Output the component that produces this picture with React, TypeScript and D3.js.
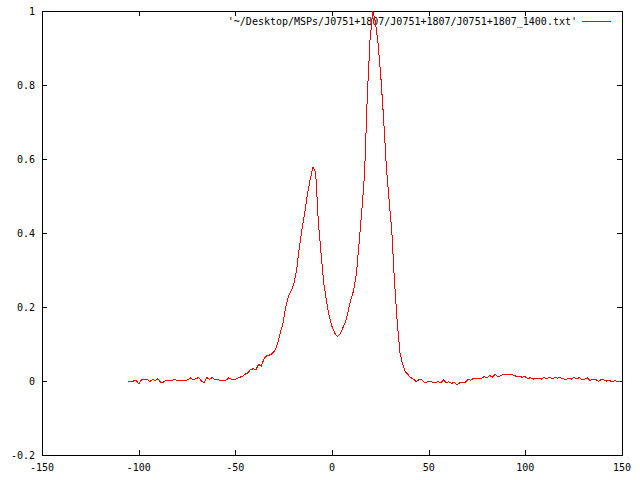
import React from "react";
import * as d3 from "d3";

const X_START = -105.5;
const X_STEP = 1.40625;
const profile: number[] = [
  -0.003, 0.0, 0.0, 0.002, -0.008, 0.004, 0.003, 0.005, -0.002, 0.004,
  0.001, 0.006, -0.004, -0.003, 0.003, 0.0, 0.001, 0.004, 0.002, 0.002,
  0.001, 0.001, 0.003, 0.008, 0.004, 0.006, 0.01, 0.0, -0.004, 0.009,
  0.004, 0.01, 0.003, 0.004, 0.001, 0.001, 0.002, 0.008, 0.005, 0.004,
  0.006, 0.01, 0.012, 0.018, 0.022, 0.03, 0.033, 0.03, 0.045, 0.04,
  0.06, 0.068, 0.07, 0.074, 0.082, 0.1, 0.13, 0.156, 0.2, 0.23,
  0.243, 0.262, 0.3, 0.36, 0.41, 0.455, 0.505, 0.545, 0.578, 0.565,
  0.43, 0.345, 0.265, 0.215, 0.175, 0.148, 0.13, 0.12, 0.128, 0.143,
  0.16, 0.19, 0.222, 0.245, 0.29, 0.375, 0.462, 0.56, 0.77, 0.92,
  1.0, 0.97, 0.91, 0.82, 0.71, 0.58, 0.49, 0.408, 0.27, 0.16,
  0.078, 0.045, 0.025, 0.017, 0.009, 0.005, -0.002, 0.004, 0.003, -0.004,
  -0.003, 0.0, -0.004, -0.004, -0.002, -0.005, 0.003, -0.004, -0.002, -0.007,
  -0.003, -0.01, -0.005, -0.005, -0.004, 0.004, 0.002, 0.007, 0.006, 0.006,
  0.007, 0.012, 0.009, 0.015, 0.01, 0.018, 0.012, 0.014, 0.018, 0.019,
  0.017, 0.018, 0.015, 0.012, 0.013, 0.01, 0.012, 0.006, 0.009, 0.005,
  0.008, 0.008, 0.005, 0.009, 0.006, 0.01, 0.006, 0.009, 0.008, 0.009,
  0.006, 0.004, 0.008, 0.005, 0.01, 0.006, 0.009, 0.003, 0.005, 0.008,
  0.001, 0.005, 0.004, -0.001, 0.004, 0.003, 0.0, 0.002, -0.003, 0.001,
  -0.002, 0.0,
];
const xTicks = [-150, -100, -50, 0, 50, 100, 150];
const yTicks = [-0.2, 0, 0.2, 0.4, 0.6, 0.8, 1];
const legendLabel = "'~/Desktop/MSPs/J0751+1807/J0751+1807/J0751+1807_1400.txt'";

const W = 640;
const H = 480;
const L = 42;
const R = 622;
const T = 11;
const B = 455;
const TICK = 5;
const FONT = "'DejaVu Sans Mono', monospace";

export default function App() {
  const x = d3.scaleLinear().domain([-150, 150]).range([L, R]);
  const y = d3.scaleLinear().domain([-0.2, 1]).range([B, T]);
  const pts: [number, number][] = profile.map((v, i) => [X_START + i * X_STEP, v]);
  const line = d3
    .line<[number, number]>()
    .x((d) => x(d[0]))
    .y((d) => y(d[1]));

  const fmtY = (v: number) => (Math.abs(v) < 1e-9 ? "0" : String(+v.toFixed(1)));

  return (
    <svg
      width={W}
      height={H}
      style={{ position: "absolute", left: 0, top: 0, background: "#fff" }}
      fontFamily={FONT}
      fontSize={10}
    >
      <rect x={0} y={0} width={W} height={H} fill="#fff" />
      <defs>
        <clipPath id="plotclip">
          <rect x={L} y={T - 1} width={R - L} height={B - T + 1} />
        </clipPath>
      </defs>
      <g shapeRendering="crispEdges" stroke="#000" strokeWidth={1}>
        {xTicks.map((t) => (
          <g key={"xt" + t}>
            <line x1={Math.round(x(t)) + 0.5} x2={Math.round(x(t)) + 0.5} y1={B} y2={B - TICK} />
            <line x1={Math.round(x(t)) + 0.5} x2={Math.round(x(t)) + 0.5} y1={T} y2={T + TICK} />
          </g>
        ))}
        {yTicks.map((t) => (
          <g key={"yt" + t}>
            <line x1={L} x2={L + TICK} y1={Math.round(y(t)) + 0.5} y2={Math.round(y(t)) + 0.5} />
            <line x1={R} x2={R - TICK} y1={Math.round(y(t)) + 0.5} y2={Math.round(y(t)) + 0.5} />
          </g>
        ))}
        <rect x={L + 0.5} y={T + 0.5} width={R - L} height={B - T} fill="none" />
      </g>
      {xTicks.map((t) => (
        <text key={"xl" + t} x={x(t)} y={B + 16} textAnchor="middle" fill="#000">
          {String(t)}
        </text>
      ))}
      {yTicks.map((t) => (
        <text key={"yl" + t} x={35} y={y(t) + 4} textAnchor="end" fill="#000">
          {fmtY(t)}
        </text>
      ))}
      <text x={577} y={25} textAnchor="end" fill="#000">
        {legendLabel}
      </text>
      <line x1={582} x2={611} y1={21.5} y2={21.5} stroke="#ff0000" strokeWidth={1} shapeRendering="crispEdges" />
      <path
        d={line(pts) || ""}
        fill="none"
        stroke="#ff0000"
        strokeWidth={1}
        clipPath="url(#plotclip)"
        shapeRendering="crispEdges"
      />
    </svg>
  );
}
